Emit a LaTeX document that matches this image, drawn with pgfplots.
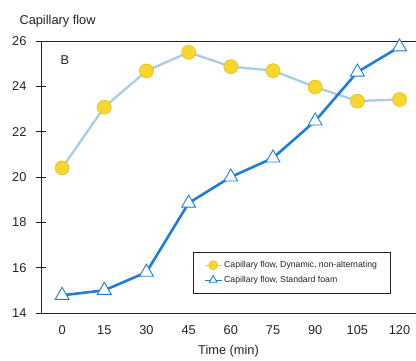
\documentclass[border=0pt]{standalone}
\usepackage{pgfplots}
\pgfplotsset{compat=1.18}
\usepackage{fontspec}
\setmainfont{Liberation Sans}
\definecolor{dblue}{RGB}{30,125,215}
\definecolor{lblue}{RGB}{168,205,225}
\definecolor{yfill}{RGB}{247,214,45}
\definecolor{yedge}{RGB}{232,190,30}
\definecolor{txt}{RGB}{35,35,35}
\begin{document}
\begin{tikzpicture}
\begin{axis}[
  scale only axis, width=375bp, height=272bp,
  xmin=-0.5, xmax=8.39, ymin=14, ymax=26,
  axis lines=left, axis line style={-, txt, line width=0.7pt},
  xtick={0,...,8}, xticklabels={0,15,30,45,60,75,90,105,120},
  minor xtick={0.5,1.5,...,7.5},
  ytick={14,16,...,26},
  tick align=center, major tick length=10bp, minor tick length=12bp,
  xtick style={draw=none}, minor tick style={txt, line width=0.7pt}, ytick style={txt, line width=0.7pt},
  tick label style={font=\fontsize{12.8bp}{14bp}\selectfont, text=txt},
  /pgf/number format/assume math mode=true,
  xticklabel style={yshift=-4bp},
  yticklabel style={xshift=-6bp},
  xlabel={Time (min)}, xlabel style={font=\fontsize{12.8bp}{14bp}\selectfont, text=txt, yshift=-4bp},
  clip=false,
  legend style={at={(rel axis cs:0.405,0.224)}, anchor=north west, font=\fontsize{8.7bp}{10bp}\selectfont, text=txt, draw=txt, line width=0.6pt, inner xsep=11bp, inner ysep=7bp, row sep=3bp},
  legend cell align=left,
  legend image post style={mark size=4.5bp, line width=1pt},
]
\addplot[lblue, line width=2.3pt, mark=*, mark size=7bp, mark options={fill=yfill, draw=yedge, line width=0.6pt}]
  coordinates {(0,20.4) (1,23.08) (2,24.68) (3,25.5) (4,24.87) (5,24.69) (6,23.97) (7,23.35) (8,23.42)};
\addlegendentry{Capillary flow, Dynamic, non-alternating}
\addplot[dblue, line width=2.6pt, mark=triangle*, mark size=8bp, mark options={fill=white, draw=dblue, line width=0.9pt}]
  coordinates {(0,14.78) (1,15.0) (2,15.8) (3,18.85) (4,20.0) (5,20.84) (6,22.47) (7,24.63) (8,25.74)};
\addlegendentry{Capillary flow, Standard foam}
\draw[txt, line width=0.7pt] (rel axis cs:0,1) -- (rel axis cs:1,1);
\node[font=\fontsize{12.8bp}{14bp}\selectfont, text=txt] at (rel axis cs:0.064,0.93) {B};
\node[font=\fontsize{12.8bp}{14bp}\selectfont, text=txt, anchor=south west] at ([shift={(-25bp,10bp)}]rel axis cs:0,1) {Capillary flow};
\coordinate (bl) at (rel axis cs:0,0);
\end{axis}
\pgfresetboundingbox
\path ([shift={(-41bp,-48bp)}]bl) rectangle ([shift={(375bp,313bp)}]bl);
\end{tikzpicture}
\end{document}
